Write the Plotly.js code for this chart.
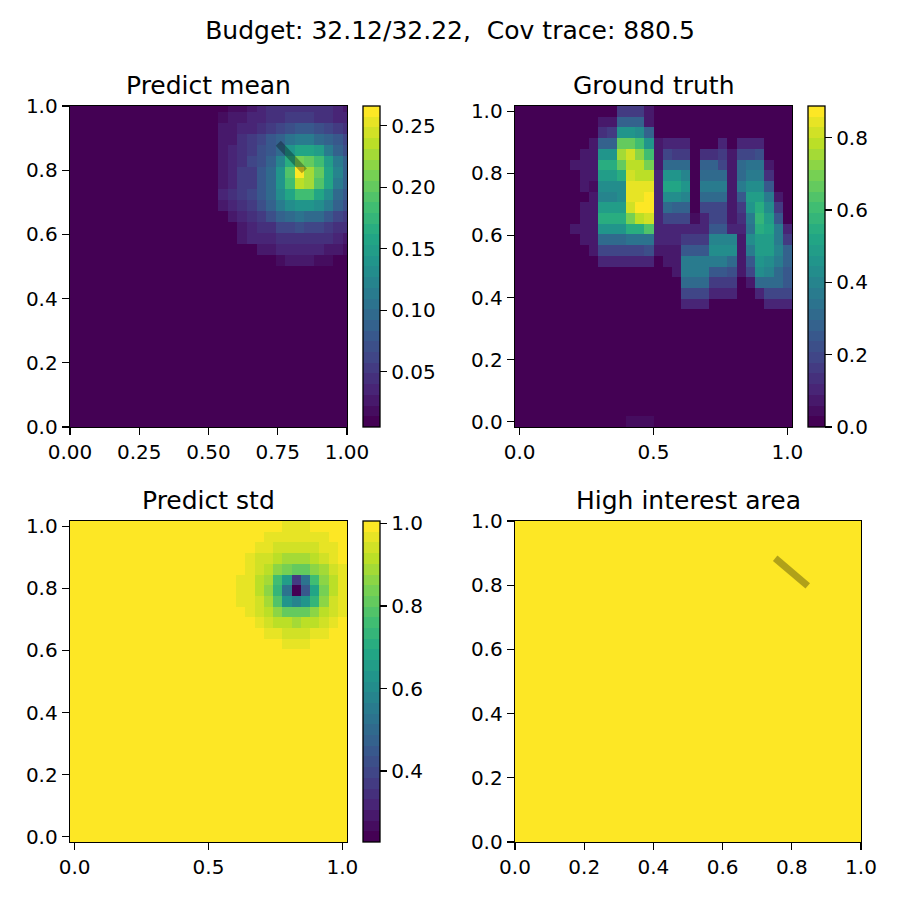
<!DOCTYPE html>
<html><head><meta charset="utf-8">
<script src="https://cdn.plot.ly/plotly-3.0.1.min.js"></script>
<style>html,body{margin:0;padding:0;background:#fff}</style>
</head><body><div id="chart" style="width:900px;height:900px"></div>
<script>
// ---------------- data ----------------
const gridSize = 30;
const suptitleText = 'Budget: 32.12/32.22,\u00a0 Cov trace: 880.5';
const panelTitles = ['Predict mean', 'Ground truth', 'Predict std', 'High interest area'];

// Predict mean: rows by y-index (0 = bottom), values for columns 14..29
const meanBackground = 0.005;
const meanFirstCol = 14;
const meanRows = {
  29: [0.005,0.006,0.010,0.020,0.022,0.030,0.034,0.040,0.042,0.044,0.045,0.045,0.044,0.040,0.035,0.025],
  28: [0.005,0.007,0.015,0.024,0.027,0.034,0.038,0.044,0.048,0.052,0.054,0.053,0.048,0.044,0.037,0.032],
  27: [0.005,0.008,0.024,0.027,0.035,0.038,0.048,0.054,0.065,0.074,0.078,0.076,0.070,0.062,0.055,0.046],
  26: [0.006,0.010,0.026,0.031,0.040,0.052,0.058,0.075,0.090,0.105,0.115,0.112,0.100,0.088,0.075,0.060],
  25: [0.006,0.010,0.028,0.033,0.045,0.050,0.068,0.078,0.100,0.140,0.155,0.160,0.145,0.115,0.090,0.070],
  24: [0.006,0.010,0.028,0.034,0.045,0.062,0.068,0.090,0.125,0.165,0.210,0.205,0.185,0.145,0.110,0.085],
  23: [0.006,0.010,0.030,0.036,0.050,0.054,0.075,0.100,0.140,0.190,0.265,0.225,0.200,0.160,0.120,0.090],
  22: [0.006,0.010,0.030,0.036,0.050,0.054,0.075,0.100,0.140,0.180,0.232,0.228,0.195,0.155,0.115,0.090],
  21: [0.006,0.012,0.035,0.042,0.050,0.060,0.078,0.100,0.130,0.160,0.182,0.180,0.155,0.130,0.100,0.080],
  20: [0.005,0.008,0.030,0.038,0.042,0.055,0.070,0.090,0.115,0.130,0.140,0.140,0.130,0.110,0.090,0.070],
  19: [0.005,0.006,0.012,0.030,0.038,0.043,0.055,0.070,0.090,0.100,0.102,0.100,0.095,0.080,0.065,0.050],
  18: [0.005,0.005,0.008,0.012,0.028,0.032,0.044,0.047,0.060,0.065,0.066,0.065,0.060,0.052,0.048,0.040],
  17: [0.005,0.005,0.006,0.008,0.025,0.034,0.036,0.036,0.044,0.046,0.046,0.046,0.045,0.040,0.038,0.030],
  16: [0.005,0.005,0.005,0.006,0.007,0.010,0.025,0.026,0.034,0.035,0.036,0.035,0.034,0.030,0.028,0.020],
  15: [0.005,0.005,0.005,0.005,0.005,0.006,0.008,0.010,0.020,0.025,0.026,0.025,0.022,0.020,0.012,0.010],
  14: [0.005,0.005,0.005,0.005,0.005,0.005,0.006,0.007,0.008,0.010,0.010,0.010,0.009,0.008,0.007,0.006]
};

// Ground truth: full rows (30 columns) by y-index, unspecified rows are 0
const gtFirstCol = 0;
const gtRows = {
  29: [0,0,0,0,0,0,0,0,0,0,0,.15,.15,.15,.07,0,0,0,0,0,0,0,0,0,0,0,0,0,0,0],
  28: [0,0,0,0,0,0,0,0,0,.08,.08,.28,.28,.28,.08,0,0,0,0,0,0,0,0,0,0,0,0,0,0,0],
  27: [0,0,0,0,0,0,0,0,0,.13,.17,.45,.45,.42,.28,0,0,0,0,0,0,0,0,0,0,0,0,0,0,0],
  26: [0,0,0,0,0,0,0,0,.06,.28,.28,.66,.66,.60,.45,.07,.10,.10,.10,0,0,0,.10,0,.10,.10,.10,0,0,0],
  25: [0,0,0,0,0,0,0,.06,.08,.45,.45,.75,.80,.72,.62,.08,.20,.17,.17,0,.14,.14,.17,.07,.20,.20,.22,0,0,0],
  24: [0,0,0,0,0,0,.06,.08,.08,.56,.56,.68,.78,.78,.70,.08,.30,.30,.30,0,.28,.28,.20,.08,.30,.34,.34,.08,0,0],
  23: [0,0,0,0,0,0,0,.08,.08,.50,.50,.56,.82,.78,.78,.10,.45,.45,.40,0,.30,.30,.30,.08,.32,.36,.36,.13,0,0],
  22: [0,0,0,0,0,0,0,.07,.04,.42,.42,.42,.84,.84,.84,.10,.52,.52,.46,0,.36,.36,.36,.08,.36,.44,.44,.25,0,0],
  21: [0,0,0,0,0,0,0,0,.07,.40,.40,.42,.84,.84,.87,.10,.44,.44,.40,0,.32,.32,.32,.08,.25,.50,.50,.36,.08,0],
  20: [0,0,0,0,0,0,0,.07,.08,.50,.50,.50,.80,.86,.886,.10,.32,.28,.28,0,.20,.20,.20,.08,.17,.45,.55,.42,.15,0],
  19: [0,0,0,0,0,0,0,.07,.08,.56,.56,.56,.70,.77,.82,.10,.18,.18,.18,.04,.10,.18,.18,.08,.12,.36,.58,.50,.26,0],
  18: [0,0,0,0,0,0,.06,.08,.08,.46,.46,.46,.55,.56,.64,.10,.10,.10,.10,.10,.10,.25,.25,.10,.10,.33,.55,.52,.36,.10],
  17: [0,0,0,0,0,0,0,.07,.08,.30,.30,.30,.34,.34,.34,.10,.10,.10,.17,.17,.17,.40,.40,.40,.08,.44,.50,.50,.38,.17],
  16: [0,0,0,0,0,0,0,0,.06,.20,.20,.20,.20,.20,.22,.08,.08,.08,.25,.25,.25,.42,.42,.42,.08,.36,.50,.48,.40,.28],
  15: [0,0,0,0,0,0,0,0,0,.10,.10,.10,.10,.10,.10,0,.06,.08,.36,.36,.36,.36,.36,.30,.06,.26,.46,.44,.38,.28],
  14: [0,0,0,0,0,0,0,0,0,0,0,0,0,0,0,0,0,.08,.36,.36,.36,.26,.26,.22,.06,.18,.44,.40,.30,.26],
  13: [0,0,0,0,0,0,0,0,0,0,0,0,0,0,0,0,0,0,.32,.32,.32,.17,.17,.17,0,.06,.30,.32,.30,.26],
  12: [0,0,0,0,0,0,0,0,0,0,0,0,0,0,0,0,0,0,.20,.20,.20,.10,.10,.10,0,0,.10,.20,.20,.20],
  11: [0,0,0,0,0,0,0,0,0,0,0,0,0,0,0,0,0,0,.10,.10,.10,0,0,0,0,0,0,.10,.10,.10],
  0:  [0,0,0,0,0,0,0,0,0,0,0,0,.03,.03,.03,0,0,0,0,0,0,0,0,0,0,0,0,0,0,0]
};

// Predict std: rows by y-index, values for columns 17..29, rest is 1.0
const stdBackground = 1.0;
const stdFirstCol = 17;
const stdRows = {
  29: [1.00,1.00,1.00,1.00,1.00,0.99,0.98,0.98,0.98,0.99,1.00,1.00,1.00],
  28: [1.00,1.00,1.00,0.99,0.98,0.97,0.96,0.96,0.96,0.97,0.98,0.99,1.00],
  27: [1.00,1.00,0.99,0.98,0.96,0.94,0.93,0.93,0.93,0.94,0.96,0.98,1.00],
  26: [1.00,0.99,0.98,0.95,0.93,0.91,0.89,0.89,0.89,0.91,0.93,0.96,0.99],
  25: [1.00,0.99,0.97,0.94,0.91,0.87,0.83,0.80,0.82,0.86,0.90,0.94,0.98],
  24: [0.99,0.98,0.96,0.92,0.88,0.77,0.66,0.36,0.53,0.76,0.86,0.92,0.97],
  23: [0.99,0.98,0.96,0.92,0.87,0.74,0.53,0.228,0.44,0.67,0.85,0.92,0.97],
  22: [0.99,0.98,0.96,0.93,0.88,0.78,0.64,0.58,0.62,0.74,0.87,0.93,0.97],
  21: [1.00,0.99,0.97,0.95,0.92,0.86,0.80,0.80,0.80,0.86,0.91,0.95,0.98],
  20: [1.00,1.00,0.99,0.97,0.95,0.92,0.91,0.90,0.91,0.92,0.95,0.97,0.99],
  19: [1.00,1.00,1.00,0.99,0.98,0.96,0.95,0.95,0.95,0.96,0.98,0.99,1.00],
  18: [1.00,1.00,1.00,1.00,1.00,0.99,0.98,0.98,0.98,0.99,1.00,1.00,1.00]
};

// High interest area: uniform level
const interestLevel = 1;

// Planned path segment (data coordinates)
const pathX = [0.752, 0.846];
const pathY = [0.884, 0.798];

const meanCbTicks = [0.05, 0.10, 0.15, 0.20, 0.25];
const gtCbTicks = [0.0, 0.2, 0.4, 0.6, 0.8];
const stdCbTicks = [0.4, 0.6, 0.8, 1.0];

// ---------------- helpers ----------------
function buildGrid(rows, firstCol, bg) {
  const z = [];
  for (let i = 0; i < gridSize; i++) {
    const row = new Array(gridSize).fill(bg);
    if (rows && rows[i]) rows[i].forEach((v, k) => { row[firstCol + k] = v; });
    z.push(row);
  }
  return z;
}
const viridisAnchors = ['#440154','#482475','#414487','#355f8d','#2a788e','#21918c','#22a884','#44bf70','#7ad151','#bddf26','#fde725'];
function hexToRgb(h){return [parseInt(h.substr(1,2),16),parseInt(h.substr(3,2),16),parseInt(h.substr(5,2),16)];}
function viridisAt(t){
  const p = t*(viridisAnchors.length-1); const k = Math.min(Math.floor(p), viridisAnchors.length-2); const f = p-k;
  const a = hexToRgb(viridisAnchors[k]), b = hexToRgb(viridisAnchors[k+1]);
  return 'rgb('+a.map((c,i)=>Math.round(c+(b[i]-c)*f)).join(',')+')';
}
function steppedViridis(n){
  const cs=[];
  for(let k=0;k<n;k++){const c=viridisAt(k/(n-1)); cs.push([k/n,c]); cs.push([(k+1)/n,c]);}
  return cs;
}
const cscale = steppedViridis(30);

const W = 900, H = 900;
const px = v => v / W;
const py = v => 1 - v / H;
const font = 'DejaVu Sans, Liberation Sans, sans-serif';

const meanBox = {l:70, r:347, t:106, b:427};
const gtBox = {l:515, r:792, t:106, b:427};
const stdBox = {l:70, r:347, t:521, b:842};
const hiBox = {l:515, r:861, t:521, b:842};

function cb(x, box, ticks, fmt){
  return {
    x: px(x), xanchor:'left', xpad:0, xref:'paper',
    y: py(box.b), yanchor:'bottom', ypad:0, yref:'paper',
    len: (box.b-box.t)/H, lenmode:'fraction',
    thickness:17, thicknessmode:'pixels',
    outlinewidth:1.3, outlinecolor:'black',
    ticks:'outside', ticklen:7, tickwidth:1.3, tickcolor:'black',
    tickvals: ticks, ticktext: ticks.map(v=>v.toFixed(fmt)),
    tickfont:{family:font, size:20, color:'black'}
  };
}

const half = 1/(2*(gridSize-1));
const traces = [
  {type:'heatmap', z: buildGrid(meanRows, meanFirstCol, meanBackground), x0:0, dx:1/(gridSize-1), y0:0, dy:1/(gridSize-1),
   colorscale: cscale, zmin:0.005, zmax:0.266, zsmooth:false, xaxis:'x', yaxis:'y',
   colorbar: cb(363, meanBox, meanCbTicks, 2), hoverinfo:'skip'},
  {type:'scatter', mode:'lines', x:pathX, y:pathY, xaxis:'x', yaxis:'y', line:{color:'rgba(0,0,0,0.3)', width:7}, showlegend:false, hoverinfo:'skip'},
  {type:'heatmap', z: buildGrid(gtRows, gtFirstCol, 0), x0:0, dx:1/(gridSize-1), y0:0, dy:1/(gridSize-1),
   colorscale: cscale, zmin:0, zmax:0.888, zsmooth:false, xaxis:'x2', yaxis:'y2',
   colorbar: cb(808, gtBox, gtCbTicks, 1), hoverinfo:'skip'},
  {type:'heatmap', z: buildGrid(stdRows, stdFirstCol, stdBackground), x0:0, dx:1/(gridSize-1), y0:0, dy:1/(gridSize-1),
   colorscale: cscale, zmin:0.228, zmax:1.006, zsmooth:false, xaxis:'x3', yaxis:'y3',
   colorbar: cb(363, stdBox, stdCbTicks, 1), hoverinfo:'skip'},
  {type:'heatmap', z: buildGrid(null, 0, interestLevel), x0:0, dx:1/(gridSize-1), y0:0, dy:1/(gridSize-1),
   colorscale: cscale, zmin:0, zmax:1, zsmooth:false, xaxis:'x4', yaxis:'y4', showscale:false, hoverinfo:'skip'},
  {type:'scatter', mode:'lines', x:pathX, y:pathY, xaxis:'x4', yaxis:'y4', line:{color:'rgba(0,0,0,0.3)', width:7}, showlegend:false, hoverinfo:'skip'}
];

function ax(box, horiz, range, ticks, dec, anchor){
  return {
    domain: horiz ? [px(box.l), px(box.r)] : [py(box.b), py(box.t)],
    range: range, anchor: anchor, showgrid:false, zeroline:false,
    showline:true, mirror:true, linecolor:'black', linewidth:1.3,
    ticks:'outside', ticklen:7, tickwidth:1.3, tickcolor:'black',
    tickvals: ticks, ticktext: ticks.map(v=>v.toFixed(dec)),
    tickfont:{family:font, size:20, color:'black'}, fixedrange:true
  };
}
const full = [-half, 1+half];
const unit = [0, 1];
const t5 = [0, 0.25, 0.5, 0.75, 1];
const t3 = [0, 0.5, 1];
const t6 = [0, 0.2, 0.4, 0.6, 0.8, 1];

function titleAnn(text, box){
  return {text:text, x:px((box.l+box.r)/2), y:py(box.t-21), xref:'paper', yref:'paper',
    xanchor:'center', yanchor:'middle', showarrow:false, font:{family:font, size:25, color:'black'}};
}

const layout = {
  width:W, height:H, margin:{l:0,r:0,t:0,b:0}, paper_bgcolor:'white', plot_bgcolor:'white',
  showlegend:false,
  title:{text:suptitleText, x:0.5, xanchor:'center', y:1-30/H, yanchor:'middle', font:{family:font, size:25, color:'black'}},
  xaxis: ax(meanBox, true, unit, t5, 2, 'y'),
  yaxis: ax(meanBox, false, unit, t6, 1, 'x'),
  xaxis2: ax(gtBox, true, full, t3, 1, 'y2'),
  yaxis2: ax(gtBox, false, full, t6, 1, 'x2'),
  xaxis3: ax(stdBox, true, full, t3, 1, 'y3'),
  yaxis3: ax(stdBox, false, full, t6, 1, 'x3'),
  xaxis4: ax(hiBox, true, unit, t6, 1, 'y4'),
  yaxis4: ax(hiBox, false, unit, t6, 1, 'x4'),
  annotations: [titleAnn(panelTitles[0], meanBox), titleAnn(panelTitles[1], gtBox), titleAnn(panelTitles[2], stdBox), titleAnn(panelTitles[3], hiBox)]
};

Plotly.newPlot('chart', traces, layout, {staticPlot:true, displayModeBar:false});
</script></body></html>
